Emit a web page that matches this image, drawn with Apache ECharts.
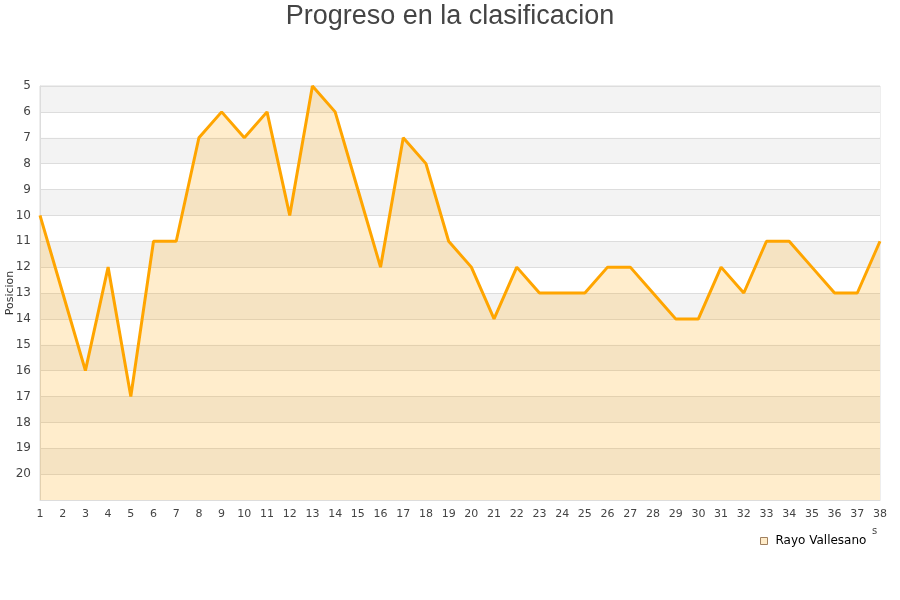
<!DOCTYPE html>
<html><head><meta charset="utf-8">
<script src="https://cdn.jsdelivr.net/npm/echarts@6/dist/echarts.min.js"></script>
<style>html,body{margin:0;padding:0;background:#fff}#c{width:900px;height:600px}</style>
</head><body><div id="c"></div>
<script>
const jornadas = ['1','2','3','4','5','6','7','8','9','10','11','12','13','14','15','16','17','18','19','20','21','22','23','24','25','26','27','28','29','30','31','32','33','34','35','36','37','38'];
const posiciones = [10,13,16,12,17,11,11,7,6,7,6,10,5,6,9,12,7,8,11,12,14,12,13,13,13,12,12,13,14,14,12,13,11,11,12,13,13,11];
const seriesName = 'Rayo Vallesano';
const titleText = 'Progreso en la clasificacion';
const yName = 'Posicion';

const chart = echarts.init(document.getElementById('c'));
chart.setOption({
  animation: false,
  title: { text: titleText, left: 'center', top: -2,
    textStyle: { fontFamily: 'Liberation Sans, Arial, sans-serif', fontSize: 27, fontWeight: 'normal', color: '#444' } },
  grid: { left: 40, right: 20, top: 86, bottom: 100, outerBoundsMode: 'none', containLabel: false, show: true, borderColor: '#ddd', borderWidth: 1 },
  legend: { left: 755, top: 530, icon: 'rect', itemWidth: 7, itemHeight: 7, itemGap: 6,
    textStyle: { fontFamily: 'DejaVu Sans, sans-serif', fontSize: 12, color: '#000', padding: [0,0,0,3] },
    data: [{ name: seriesName, itemStyle: { color: '#ffecc9', borderColor: '#a08060', borderWidth: 1 } }] },
  xAxis: { type: 'category', data: jornadas, boundaryGap: false,
    axisLine: { show: true, lineStyle: { color: '#ddd' } }, axisTick: { show: false },
    axisLabel: { fontFamily: 'DejaVu Sans, sans-serif', fontSize: 11, color: '#444', margin: 9, interval: 0 },
    splitLine: { show: false } },
  yAxis: { type: 'value', inverse: true, min: 5, max: 21, interval: 1,
    name: yName, nameLocation: 'middle', nameGap: 24, nameRotate: 90, nameMoveOverlap: false,
    nameTextStyle: { fontFamily: 'DejaVu Sans, sans-serif', fontSize: 11, color: '#333' },
    axisLine: { show: true, lineStyle: { color: '#ddd' } }, axisTick: { show: false },
    axisLabel: { fontFamily: 'DejaVu Sans, sans-serif', fontSize: 12, color: '#444', margin: 9,
      formatter: v => v === 21 ? '' : String(v) },
    splitLine: { show: true, lineStyle: { color: '#ddd' } },
    splitArea: { show: true, areaStyle: { color: ['#f3f3f3', '#ffffff'] } } },
  graphic: [{ type: 'text', left: 872, top: 526, style: { text: 's', fontSize: 10, fill: '#444', fontFamily: 'DejaVu Sans, sans-serif' } }],
  series: [{ name: seriesName, type: 'line', data: posiciones, symbol: 'none',
    lineStyle: { color: '#ffa500', width: 3 },
    itemStyle: { color: '#ffa500' },
    areaStyle: { color: '#ffa500', opacity: 0.2, origin: 'end' } }]
});
</script></body></html>
